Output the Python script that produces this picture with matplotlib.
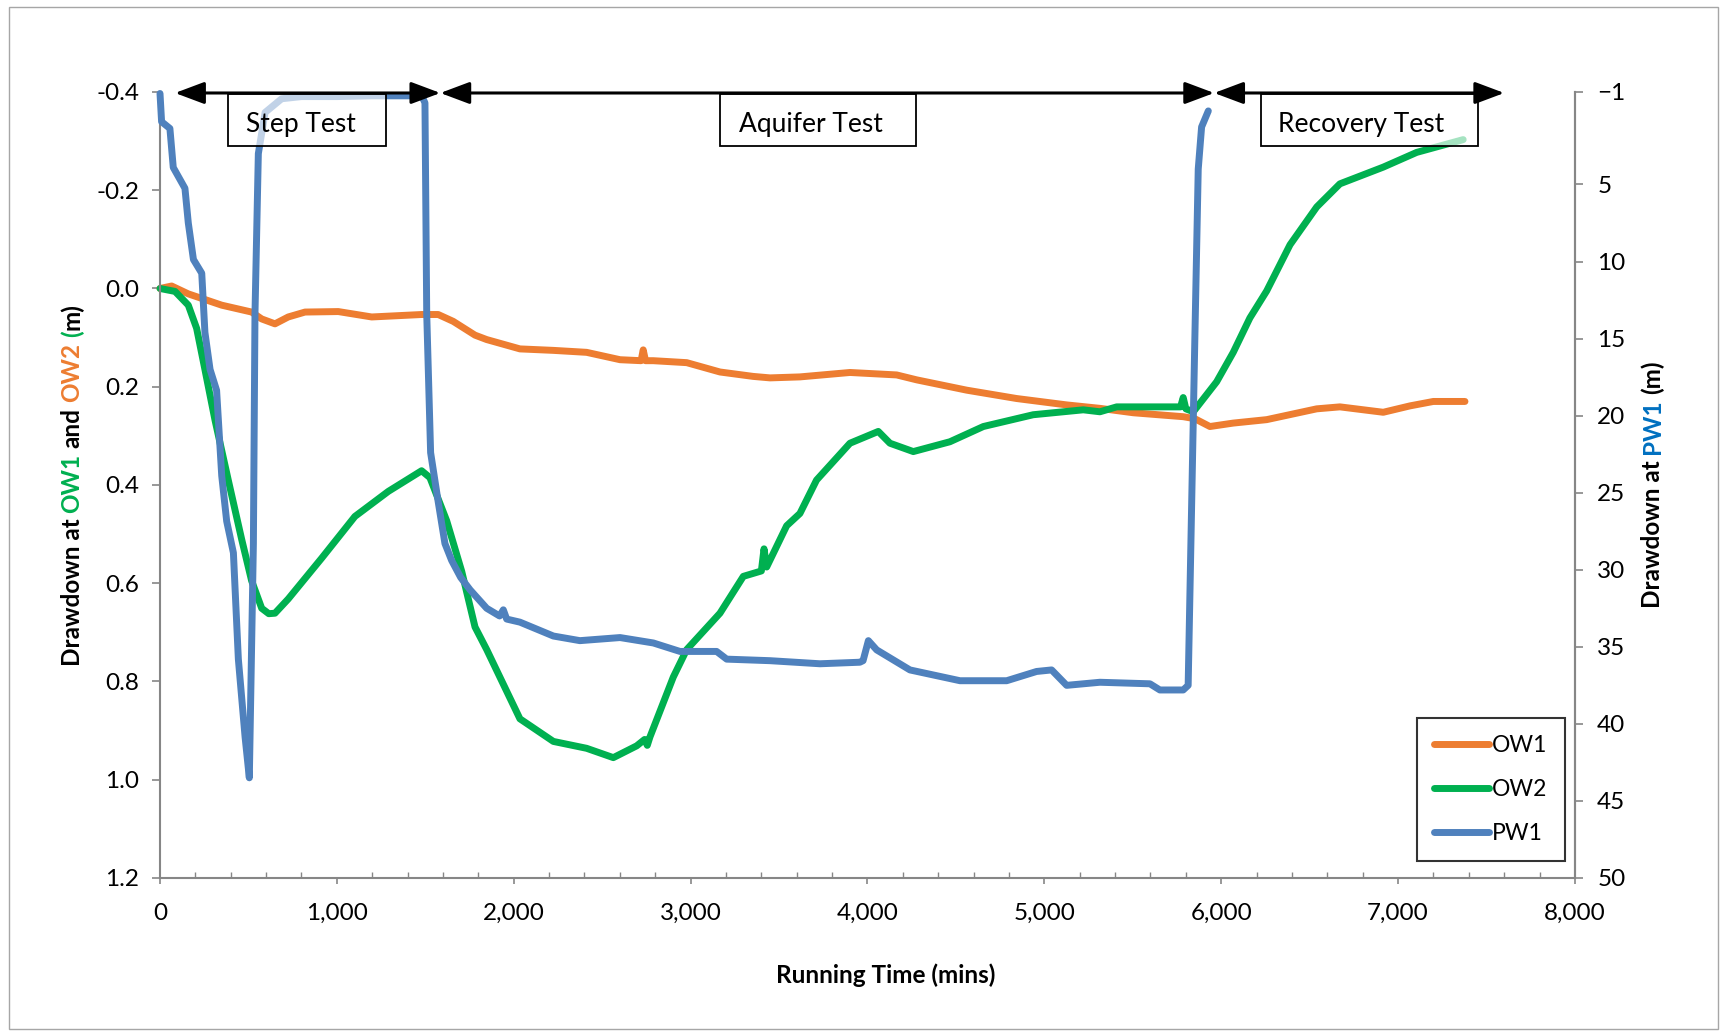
import matplotlib.pyplot as plt
import matplotlib.ticker as mticker
from matplotlib.patches import Rectangle
from matplotlib.transforms import IdentityTransform

plt.rcParams['font.family'] = ['Lato', 'DejaVu Sans']

# running time (mins) and drawdown (m) at the two observation wells
ow1_time = [0, 66, 160, 349, 518, 575, 650, 725, 820, 1008, 1197, 1479, 1573, 1658,
            1781, 1847, 2035, 2224, 2412, 2601, 2720, 2732, 2745, 2789, 2978, 3166,
            3354, 3449, 3618, 3901, 4165, 4278, 4561, 4843, 5126, 5314, 5503, 5785,
            5850, 5936, 6068, 6257, 6540, 6671, 6916, 7067, 7199, 7378]
ow1_dd = [0.0, -0.005, 0.011, 0.034, 0.048, 0.062, 0.072, 0.058, 0.048, 0.047, 0.058,
          0.053, 0.053, 0.067, 0.095, 0.104, 0.123, 0.126, 0.130, 0.145, 0.147, 0.125,
          0.147, 0.147, 0.151, 0.170, 0.179, 0.182, 0.180, 0.171, 0.176, 0.186, 0.207,
          0.224, 0.237, 0.244, 0.253, 0.261, 0.265, 0.281, 0.274, 0.267, 0.245, 0.241,
          0.252, 0.239, 0.230, 0.230]

ow2_time = [0, 85, 160, 207, 254, 311, 386, 462, 518, 575, 615, 650, 725, 914, 1102,
            1291, 1479, 1526, 1621, 1706, 1781, 1847, 2035, 2224, 2412, 2563, 2695,
            2740, 2755, 2770, 2902, 2978, 3166, 3298, 3400, 3415, 3430, 3543, 3618,
            3712, 3901, 4061, 4127, 4259, 4466, 4655, 4937, 5220, 5314, 5409, 5691,
            5770, 5785, 5800, 5842, 5974, 6068, 6162, 6257, 6389, 6540, 6671, 6916,
            7105, 7368]
ow2_dd = [0.0, 0.006, 0.034, 0.081, 0.165, 0.268, 0.390, 0.511, 0.595, 0.651, 0.662,
          0.661, 0.632, 0.549, 0.464, 0.413, 0.371, 0.385, 0.473, 0.576, 0.689, 0.735,
          0.876, 0.922, 0.936, 0.955, 0.931, 0.918, 0.930, 0.913, 0.791, 0.735, 0.661,
          0.586, 0.575, 0.530, 0.567, 0.483, 0.458, 0.390, 0.315, 0.291, 0.315, 0.332,
          0.312, 0.281, 0.257, 0.247, 0.251, 0.241, 0.241, 0.241, 0.222, 0.245, 0.251,
          0.190, 0.130, 0.060, 0.005, -0.089, -0.166, -0.213, -0.247, -0.277, -0.303]

# pumping well drawdown (m)
pw1_time = [0, 9, 56, 75, 141, 160, 189, 236, 254, 283, 320, 349, 377, 415, 443, 481,
            505, 528, 537, 556, 594, 688, 800, 1000, 1200, 1400, 1480, 1498, 1508, 1530,
            1573, 1611, 1649, 1700, 1753, 1847, 1920, 1941, 1960, 2035, 2224, 2374,
            2601, 2789, 2940, 3147, 3204, 3449, 3731, 3957, 3975, 4005, 4052, 4240,
            4523, 4787, 4956, 5041, 5126, 5314, 5597, 5653, 5785, 5813, 5851, 5870,
            5889, 5927]
pw1_dd = [-0.9, 0.93, 1.37, 3.9, 5.25, 7.5, 9.87, 10.76, 14.6, 17.0, 18.36, 23.9, 26.85,
          28.9, 35.8, 40.85, 43.5, 28.3, 13.4, 3.0, 0.33, -0.56, -0.7, -0.7, -0.75,
          -0.75, -0.75, -0.29, 13.4, 22.4, 25.6, 28.3, 29.4, 30.5, 31.3, 32.5, 33.0,
          32.6, 33.2, 33.4, 34.3, 34.6, 34.4, 34.75, 35.3, 35.3, 35.8, 35.9, 36.1, 36.0,
          35.9, 34.6, 35.2, 36.5, 37.2, 37.2, 36.6, 36.5, 37.5, 37.3, 37.4, 37.8, 37.8,
          37.5, 14.9, 4.0, 1.27, 0.23]

phases = ['Step Test', 'Aquifer Test', 'Recovery Test']
phase_start = [85, 1585, 5960]
phase_end = [1585, 5960, 7600]

left_ticks = [-0.4, -0.2, 0.0, 0.2, 0.4, 0.6, 0.8, 1.0, 1.2]
right_ticks = [-1, 5, 10, 15, 20, 25, 30, 35, 40, 45, 50]

c_ow1 = '#ED7D31'
c_ow2 = '#00B050'
c_pw1 = '#4F81BD'
c_axis = '#868686'
fs = 17.5
lw = 5.0

fig = plt.figure(figsize=(17.26, 10.31), dpi=100)
ax = fig.add_axes([0.0927, 0.1484, 0.8198, 0.7624])
ax2 = ax.twinx()

l1, = ax.plot(ow1_time, ow1_dd, color=c_ow1, lw=lw, solid_capstyle='round', clip_on=False)
l2, = ax.plot(ow2_time, ow2_dd, color=c_ow2, lw=lw, solid_capstyle='round', clip_on=False)
l3, = ax2.plot(pw1_time, pw1_dd, color=c_pw1, lw=lw, solid_capstyle='round', clip_on=False)

ax.set_xlim(0, 8000)
ax.set_ylim(1.2, -0.4)
ax2.set_ylim(50, -1)
ax.set_xticks(range(0, 8001, 1000))
ax.xaxis.set_minor_locator(mticker.MultipleLocator(200))
ax.xaxis.set_major_formatter(mticker.FuncFormatter(lambda v, p: f'{v:,.0f}'))
ax.set_yticks(left_ticks)
ax.yaxis.set_major_formatter(mticker.FormatStrFormatter('%.1f'))
ax2.set_yticks(right_ticks)

for a in (ax, ax2):
    a.spines['top'].set_visible(False)
    for s in a.spines.values():
        s.set_color(c_axis)
        s.set_linewidth(1.5)
ax2.spines['left'].set_visible(False)
ax2.spines['bottom'].set_visible(False)

ax.tick_params(axis='y', direction='out', length=6, width=1.2, color=c_axis,
               labelsize=fs, pad=9)
ax.tick_params(axis='x', which='major', direction='out', length=4, width=1.2,
               color=c_axis, labelsize=fs, pad=14)
ax.tick_params(axis='x', which='minor', direction='in', length=4, width=1.0, color=c_axis)
ax2.tick_params(axis='y', direction='out', length=6, width=1.2, color=c_axis,
                labelsize=fs, pad=10)

# phase boxes, semi-transparent so the curves show faintly underneath
boxes = [(0.048, 0.1597, 0.0993), (0.3958, 0.5343, 0.460), (0.7784, 0.9317, 0.849)]
for name, (x0, x1, xt) in zip(phases, boxes):
    ax2.add_patch(Rectangle((x0, 0.931), x1 - x0, 0.066, transform=ax2.transAxes,
                            facecolor='white', alpha=0.65, edgecolor='none',
                            zorder=5, clip_on=False))
    ax2.add_patch(Rectangle((x0, 0.931), x1 - x0, 0.066, transform=ax2.transAxes,
                            facecolor='none', edgecolor='black', lw=1.3,
                            zorder=6, clip_on=False))
    ax2.text(xt, 0.958, name, transform=ax2.transAxes, ha='center', va='center',
             fontsize=19, zorder=7)

# double-headed arrows spanning each phase
for a0, a1 in zip(phase_start, phase_end):
    ax2.annotate('', xy=(a1, 0.9987), xytext=(a0, 0.9987),
                 xycoords=('data', 'axes fraction'),
                 textcoords=('data', 'axes fraction'),
                 annotation_clip=False, zorder=8,
                 arrowprops=dict(arrowstyle='<|-|>,head_length=1.2,head_width=0.45',
                                 mutation_scale=15, lw=2.2, color='black',
                                 shrinkA=0, shrinkB=0))

leg = ax2.legend([l1, l2, l3], ['OW1', 'OW2', 'PW1'], loc='lower right',
                 bbox_to_anchor=(0.9929, 0.0216), borderaxespad=0, fancybox=False,
                 edgecolor='black', fontsize=16.5, handlelength=2.4, handletextpad=0.15,
                 labelspacing=1.0, borderpad=0.75)
leg.get_frame().set_linewidth(1.5)
leg.set_zorder(10)


def stacked_label(x_px, y_px, parts, size):
    # draw a rotated label made of differently coloured words
    r = fig.canvas.get_renderer()

    def length(s):
        t = fig.text(0, 0, s, fontsize=size, fontweight='bold', rotation=90)
        h = t.get_window_extent(r).height
        t.remove()
        return h

    space = length('a a') - length('aa')
    lens = [length(s) for s, c, g in parts]
    total = sum(lens) + space * sum(1 for s, c, g in parts[:-1] if g)
    y = y_px - total / 2
    for (s, c, g), L in zip(parts, lens):
        fig.text(x_px, y + L / 2, s, color=c, fontsize=size, fontweight='bold',
                 rotation=90, rotation_mode='anchor', ha='center', va='center',
                 transform=IdentityTransform())
        y += L + (space if g else 0)


H = 1031
stacked_label(72, H - 485, [('Drawdown at', 'black', True), ('OW1', c_ow2, True),
                            ('and', 'black', True), ('OW2', c_ow1, True),
                            ('(', c_ow2, False), ('m)', 'black', False)], fs)
stacked_label(1652, H - 484, [('Drawdown at', 'black', True), ('PW1', '#0070C0', True),
                              ('(m)', 'black', False)], fs)
fig.text(886 / 1726, 1 - 975 / H, 'Running Time (mins)', ha='center', va='center',
         fontsize=fs, fontweight='bold')

# thin border around the chart area
fig.patches.append(Rectangle((0.0052, 0.0019), 0.9902, 0.9913, transform=fig.transFigure,
                             fill=False, edgecolor='#a6a6a6', lw=1.0))

fig.savefig('out.png', dpi=100)
